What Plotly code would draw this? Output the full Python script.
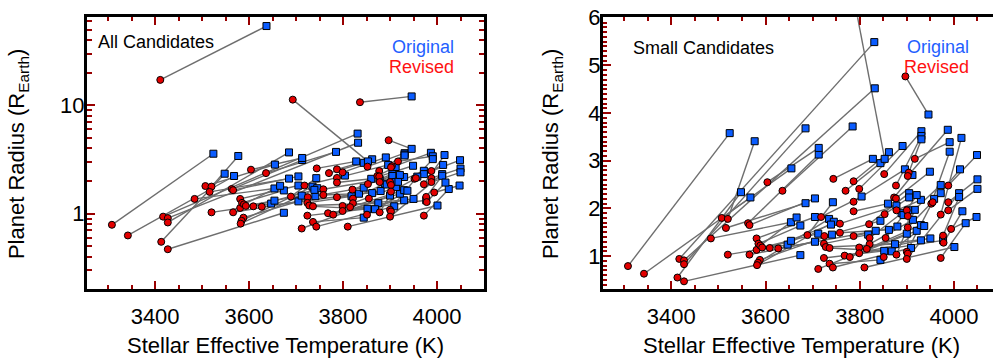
import plotly.graph_objects as go

# ---------------- data ----------------
# each index is one candidate: revised (red) -> original (blue)
teff_revised = [3308, 3342, 3417, 3427, 3427, 3413, 3427, 3484, 3507, 3520,
                3516, 3520, 3563, 3566, 3566, 3581, 3581, 3585, 3589, 3593,
                3588, 3584, 3582, 3604, 3636, 3609, 3627, 3689, 3718, 3725,
                3724, 3728, 3736, 3724, 3736, 3743, 3712, 3744, 3758, 3758,
                3770, 3787, 3787, 3787, 3799, 3787, 3768, 3779, 3799, 3799,
                3810, 3820, 3821, 3821, 3815, 3852, 3853, 3855, 3851, 3877,
                3873, 3877, 3878, 3878, 3897, 3904, 3902, 3900, 3902, 3902,
                3900, 3902, 3900, 3917, 3952, 3955, 3972, 3972, 3977, 3978,
                3988, 3988, 3988, 3994, 3411, 3693, 3836]
radius_revised = [0.79, 0.63, 0.94, 0.91, 0.83, 0.55, 0.47, 1.37, 1.80, 1.78,
                  1.59, 1.03, 1.69, 1.65, 1.03, 1.37, 1.13, 1.26, 1.22, 1.18,
                  0.92, 0.86, 0.81, 2.55, 2.37, 1.17, 1.16, 1.44, 1.82, 1.42,
                  1.26, 1.19, 1.17, 0.96, 0.84, 0.76, 0.73, 2.62, 1.68, 1.49,
                  2.37, 2.57, 2.14, 1.94, 2.41, 1.42, 1.01, 0.98, 1.18, 1.06,
                  0.76, 1.67, 1.38, 1.25, 1.15, 2.72, 1.88, 1.38, 0.98, 2.48,
                  2.23, 2.21, 1.96, 1.03, 4.77, 2.75, 2.68, 1.96, 1.84, 1.60,
                  1.09, 1.05, 0.94, 3.04, 2.10, 2.13, 1.87, 0.96, 1.43, 1.28,
                  2.48, 2.13, 1.96, 1.57, 17.2, 11.3, 10.7]
teff_original = [3524, 3568, 3831, 3832, 3685, 3548, 3674, 3654, 3655, 3577,
                 3685, 3647, 3713, 3705, 3705, 3705, 3654, 3674, 3666, 3712,
                 3741, 3735, 3745, 3713, 3785, 3739, 3834, 3743, 3804, 3844,
                 3818, 3875, 3868, 3852, 3844, 3909, 3900, 3828, 3878, 3862,
                 3844, 3862, 3896, 3860, 3891, 3880, 3930, 3921, 3950, 3977,
                 4001, 3905, 3889, 3913, 3930, 3931, 3905, 3893, 3937, 3931,
                 3912, 3949, 3930, 3917, 3946, 3931, 3987, 3921, 3972, 3972,
                 3958, 3903, 4011, 3991, 3991, 4013, 4016, 4025, 4011, 4018,
                 4049, 4050, 4050, 4048, 3637, 3853, 3946]
radius_original = [3.58, 2.23, 5.49, 4.52, 3.68, 2.34, 1.02, 1.71, 2.84, 3.41,
                   2.11, 1.24, 3.13, 2.21, 1.30, 1.82, 1.32, 1.64, 1.81, 1.47,
                   1.45, 1.78, 1.72, 3.27, 3.72, 1.66, 1.53, 2.13, 2.25, 1.74,
                   1.45, 1.25, 1.10, 1.11, 0.92, 1.17, 1.47, 3.04, 2.06, 1.55,
                   2.95, 3.18, 2.82, 2.10, 3.31, 1.62, 1.33, 1.53, 1.37, 1.33,
                   1.19, 2.32, 1.90, 1.76, 1.65, 3.62, 2.23, 1.86, 1.63, 3.52,
                   2.70, 2.77, 2.18, 1.97, 3.97, 3.45, 3.65, 2.28, 2.49, 2.32,
                   2.20, 1.96, 2.32, 3.39, 3.19, 2.82, 3.48, 1.69, 2.24, 1.94,
                   3.12, 2.61, 2.41, 1.82, 54.0, 3.04, 12.1]

x_ticks = [3400, 3600, 3800, 4000]
x_minor = [3300, 3350, 3450, 3500, 3550, 3650, 3700, 3750, 3850, 3900, 3950, 4050]
logy_ticks = [1, 10]
logy_minor = [0.2, 0.3, 0.4, 0.5, 0.6, 0.7, 0.8, 0.9,
              2, 3, 4, 5, 6, 7, 8, 9, 20, 30, 40, 50, 60]
liny_ticks = [1, 2, 3, 4, 5, 6]
liny_minor = [round(v * 0.1, 1) for v in range(3, 61) if v % 10]

panel_titles = ["All Candidates", "Small Candidates"]
legend_labels = ["Original", "Revised"]
x_title = "Stellar Effective Temperature (K)"
y_title = "Planet Radius (R<sub>Earth</sub>)"

# ---------------- style ----------------
W, H = 993, 360
FONT = "Liberation Sans, Arial, Helvetica, sans-serif"
BLUE = "#0a5cff"
BLUE_TXT = "#1f5fff"
RED = "#e30000"
RED_TXT = "#ff1111"
GRAY = "#6e6e6e"
TICK = "#990000"


def fx(p):
    return p / W


def fy(p):
    return 1 - p / H


line_x, line_y = [], []
for t0, r0, t1, r1 in zip(teff_revised, radius_revised, teff_original, radius_original):
    line_x += [t0, t1, None]
    line_y += [r0, r1, None]

fig = go.Figure()
for xa, ya in [("x", "y"), ("x2", "y2")]:
    fig.add_trace(go.Scatter(x=line_x, y=line_y, mode="lines",
                             line=dict(color=GRAY, width=1.4),
                             xaxis=xa, yaxis=ya, hoverinfo="skip", showlegend=False))
    fig.add_trace(go.Scatter(x=teff_original, y=radius_original, mode="markers",
                             marker=dict(symbol="square", size=7, color=BLUE,
                                         line=dict(color="black", width=1)),
                             xaxis=xa, yaxis=ya, name="Original", showlegend=False))
    fig.add_trace(go.Scatter(x=teff_revised, y=radius_revised, mode="markers",
                             marker=dict(symbol="circle", size=7, color=RED,
                                         line=dict(color="black", width=1)),
                             xaxis=xa, yaxis=ya, name="Revised", showlegend=False))

tickfont = dict(size=22, color="black", family=FONT)
ydom = [fy(287), fy(5.5)]


def axis(**kw):
    d = dict(ticks="inside", ticklen=8, tickwidth=2, tickcolor=TICK,
             showline=True, linewidth=3, linecolor="black", mirror="ticks",
             showgrid=False, zeroline=False, tickfont=tickfont)
    d.update(kw)
    return d


def minor(vals, ln=4):
    return dict(ticks="inside", ticklen=ln, tickwidth=1.5, tickcolor=TICK,
                tickmode="array", tickvals=vals, showgrid=False)


fig.update_layout(
    width=W, height=H, margin=dict(l=0, r=0, t=0, b=0),
    paper_bgcolor="white", plot_bgcolor="white", showlegend=False,
    xaxis=axis(domain=[fx(87), fx(484)], range=[3255, 4100], anchor="y",
               tickmode="array", tickvals=x_ticks, ticklabelstandoff=5,
               minor=minor(x_minor)),
    yaxis=axis(domain=ydom, type="log", anchor="x", range=[-0.699, 1.813],
               tickmode="array", tickvals=logy_ticks, ticklabelstandoff=-5,
               minor=minor(logy_minor, 5)),
    xaxis2=axis(domain=[fx(603), 1.0], range=[3255, 4083], anchor="y2",
                tickmode="array", tickvals=x_ticks, ticklabelstandoff=5,
                minor=minor(x_minor)),
    yaxis2=axis(domain=ydom, anchor="x2", range=[0.3, 6.01], mirror=False,
                tickmode="array", tickvals=liny_ticks, ticklabeloverflow="allow",
                ticklabelstandoff=-5,
                minor=minor(liny_minor)),
)

ann = []
for xc in (285.5, 801):
    ann.append(dict(text=x_title, x=fx(xc), y=fy(345), xref="paper", yref="paper",
                    xanchor="center", yanchor="middle", showarrow=False,
                    font=dict(size=22, family=FONT, color="black")))
for xc in (18, 552):
    ann.append(dict(text=y_title, x=fx(xc), y=fy(147), xref="paper", yref="paper",
                    xanchor="center", yanchor="middle", showarrow=False, textangle=-90,
                    font=dict(size=22, family=FONT, color="black")))
ann.append(dict(text=panel_titles[0], x=fx(96), y=fy(31), xref="paper", yref="paper",
                xanchor="left", yanchor="middle", showarrow=False,
                font=dict(size=18, family=FONT, color="black")))
ann.append(dict(text=panel_titles[1], x=fx(631), y=fy(37), xref="paper", yref="paper",
                xanchor="left", yanchor="middle", showarrow=False,
                font=dict(size=18, family=FONT, color="black")))
for xr in (456, 971):
    ann.append(dict(text=legend_labels[0], x=fx(xr), y=fy(36), xref="paper", yref="paper",
                    xanchor="right", yanchor="middle", showarrow=False,
                    font=dict(size=18, family=FONT, color=BLUE_TXT)))
    ann.append(dict(text=legend_labels[1], x=fx(xr), y=fy(57), xref="paper", yref="paper",
                    xanchor="right", yanchor="middle", showarrow=False,
                    font=dict(size=18, family=FONT, color=RED_TXT)))
fig.update_layout(annotations=ann)

fig.write_html("out.html")
